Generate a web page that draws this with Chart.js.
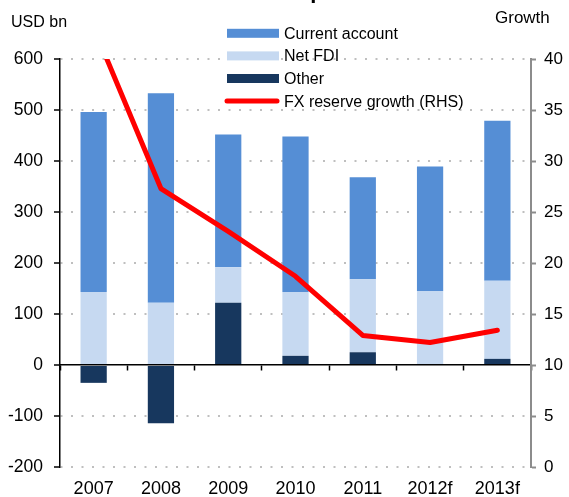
<!DOCTYPE html>
<html>
<head>
<meta charset="utf-8">
<script src="https://cdn.jsdelivr.net/npm/chart.js@4.4.0/dist/chart.umd.min.js"></script>
<style>
  html, body { margin: 0; padding: 0; background: #ffffff; }
  #wrap { width: 569px; height: 497px; position: relative; }
</style>
</head>
<body>
<div id="wrap"><canvas id="bopChart"></canvas></div>
<script>
// data
const years = ['2007', '2008', '2009', '2010', '2011', '2012f', '2013f'];
const currentAccount = [353, 411, 260, 305, 200, 244, 314];
const netFDI = [143, 122, 70, 125, 143, 145, 153];
const other = [-35, -114, 122, 18, 25, 0, 12];
const fxGrowth = [43.1, 27.3, 23.1, 18.7, 12.9, 12.2, 13.4];

const leftTicks = { min: -200, max: 600, step: 100 };
const rightTicks = { min: 0, max: 40, step: 5 };

const fontName = "'Liberation Sans', Arial, sans-serif";
Chart.defaults.font.family = fontName;
Chart.defaults.font.size = 16;
Chart.defaults.color = '#000000';

const dotGrid = '#bfbfbf';

// legend + axis captions + cut-off title
const decorations = {
    id: 'decorations',
    afterDraw(chart) {
        const ctx = chart.ctx;
        ctx.save();
        ctx.fillStyle = '#000';
        ctx.font = "bold 22px " + fontName;
        ctx.textAlign = 'center';
        ctx.textBaseline = 'alphabetic';
        ctx.fillText("China's BoP components", 263, -2);

        ctx.font = "16px " + fontName;
        ctx.textAlign = 'left';
        ctx.fillText('USD bn', 11, 27);
        ctx.font = "17px " + fontName;
        ctx.fillText('Growth', 495, 23);

        // legend, in the order of the picture
        ctx.font = "16px " + fontName;
        const order = [2, 1, 0, 3];
        const x0 = 227, y0 = 33.3, rowH = 22.6;
        order.forEach(function (di, i) {
            const ds = chart.data.datasets[di];
            const y = y0 + i * rowH;
            if (ds.type === 'line') {
                ctx.strokeStyle = ds.borderColor;
                ctx.lineWidth = 5;
                ctx.lineCap = 'round';
                ctx.beginPath();
                ctx.moveTo(x0, y);
                ctx.lineTo(x0 + 50, y);
                ctx.stroke();
            } else {
                ctx.fillStyle = ds.backgroundColor;
                ctx.fillRect(x0, y - 4.5, 52, 9);
            }
            ctx.fillStyle = '#000';
            ctx.textBaseline = 'middle';
            ctx.fillText(ds.label, x0 + 57, y + 1);
        });
        ctx.restore();
    }
};

const data = {
    labels: years,
    datasets: [{
        label: 'Other',
        data: other,
        backgroundColor: '#17375e',
        stack: 'bop',
        order: 2
    }, {
        label: 'Net FDI',
        data: netFDI,
        backgroundColor: '#c6d9f1',
        stack: 'bop',
        order: 2
    }, {
        label: 'Current account',
        data: currentAccount,
        backgroundColor: '#558ed5',
        stack: 'bop',
        order: 2
    }, {
        type: 'line',
        label: 'FX reserve growth (RHS)',
        data: fxGrowth,
        yAxisID: 'y2',
        borderColor: '#ff0000',
        backgroundColor: '#ff0000',
        borderWidth: 5,
        borderCapStyle: 'round',
        borderJoinStyle: 'round',
        pointRadius: 0,
        tension: 0,
        clip: 0,
        order: 1
    }]
};

const config = {
    type: 'bar',
    data: data,
    plugins: [decorations],
    options: {
        responsive: true,
        maintainAspectRatio: false,
        animation: false,
        layout: { padding: { top: 59, left: 0, right: 0, bottom: 0 } },
        datasets: {
            bar: { barPercentage: 0.39, categoryPercentage: 1.0 }
        },
        plugins: {
            legend: { display: false },
            tooltip: { enabled: false }
        },
        scales: {
            x: {
                stacked: true,
                position: 'bottom',
                grid: { display: false, drawTicks: false },
                border: { display: false },
                ticks: { padding: 11, maxRotation: 0, font: { size: 18 } },
                afterFit: function (s) { s.height = 30; }
            },
            x2: {
                type: 'category',
                labels: years,
                position: { y: 0 },
                offset: true,
                grid: {
                    offset: true,
                    drawOnChartArea: false,
                    drawTicks: true,
                    tickLength: 5,
                    tickColor: '#000',
                    tickWidth: 1.5
                },
                border: { display: true, color: '#000', width: 1.5 },
                ticks: { display: false },
                afterFit: function (s) { s.height = 0; }
            },
            y: {
                stacked: true,
                position: 'left',
                min: leftTicks.min,
                max: leftTicks.max,
                ticks: { stepSize: leftTicks.step, padding: 11, font: { size: 17.5 } },
                grid: {
                    color: function (c) {
                        return (c.tick && c.tick.value === 0) ? 'rgba(0,0,0,0)' : dotGrid;
                    },
                    lineWidth: 2,
                    tickLength: 6,
                    tickColor: '#000',
                    tickWidth: 1.5,
                    tickBorderDash: []
                },
                border: { display: true, color: '#000', width: 1.5, dash: [2, 8.5] },
                afterFit: function (s) { s.width = 60; }
            },
            y2: {
                position: 'right',
                min: rightTicks.min,
                max: rightTicks.max,
                ticks: { stepSize: rightTicks.step, padding: 8, font: { size: 17 } },
                grid: {
                    drawOnChartArea: false,
                    tickLength: 5,
                    tickColor: '#8c8c8c',
                    tickWidth: 2
                },
                border: { display: true, color: '#8c8c8c', width: 2 },
                afterFit: function (s) { s.width = 38; }
            }
        }
    }
};

var bopChart = new Chart(document.getElementById('bopChart'), config);
</script>
</body>
</html>
